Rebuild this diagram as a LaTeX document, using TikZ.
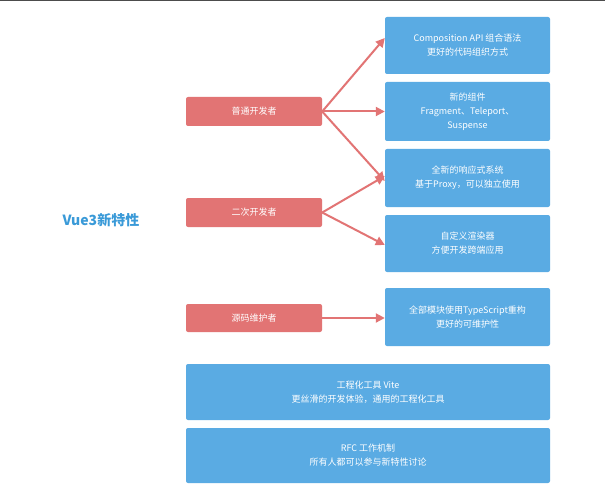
\documentclass[tikz,border=0pt]{standalone}
\usepackage{fontspec}
\setmainfont{Noto Sans CJK SC}
\usetikzlibrary{arrows.meta}
\definecolor{rbox}{HTML}{E27474}
\definecolor{bbox}{HTML}{5AABE3}
\definecolor{ttl}{HTML}{3A9AD8}
\begin{document}
\begin{tikzpicture}[x=1pt,y=-1pt,
 red/.style={fill=rbox,rounded corners=2pt,text=white,font=\fontsize{9}{11}\selectfont,inner sep=0pt},
 blue/.style={fill=bbox,rounded corners=2pt,text=white,font=\fontsize{9}{14}\selectfont,align=center,inner sep=0pt},
 arr/.style={draw=rbox,line width=2pt,-{Triangle[length=9pt,width=9pt]}}]
\useasboundingbox[fill=white] (0,0) rectangle (605,500);
\fill[gray!60!black] (0,0) rectangle (605,1.5);
\node[red,minimum width=136pt,minimum height=29pt] (p) at (254,111.5) {普通开发者};
\node[red,minimum width=136pt,minimum height=29pt] (e) at (254,212.5) {二次开发者};
\node[red,minimum width=136pt,minimum height=28pt] (y) at (254,318) {源码维护者};
\node[blue,minimum width=165pt,minimum height=57pt] (b1) at (467.5,45.5) {Composition API 组合语法\\更好的代码组织方式};
\node[blue,minimum width=165pt,minimum height=59pt] (b2) at (467.5,111.5) {新的组件\\Fragment、Teleport、\\Suspense};
\node[blue,minimum width=165pt,minimum height=58pt] (b3) at (467.5,178) {全新的响应式系统\\基于Proxy，可以独立使用};
\node[blue,minimum width=165pt,minimum height=57pt] (b4) at (467.5,243.5) {自定义渲染器\\方便开发跨端应用};
\node[blue,minimum width=165pt,minimum height=58pt] (b5) at (467.5,317) {全部模块使用TypeScript重构\\更好的可维护性};
\node[blue,minimum width=364pt,minimum height=56pt] (b6) at (368,392) {工程化工具 Vite\\更丝滑的开发体验，通用的工程化工具};
\node[blue,minimum width=364pt,minimum height=55pt] (b7) at (368,455.5) {RFC 工作机制\\所有人都可以参与新特性讨论};
\node[text=ttl,font=\fontsize{14}{16}\selectfont\bfseries] (t) at (101,220) {Vue3新特性};
\draw[arr] (p.east) -- (b1.west|-0,38);
\draw[arr] (p.east) -- (b2.west);
\draw[arr] (p.east) -- (b3.west|-0,181);
\draw[arr] (e.east) -- (b3.west|-0,176);
\draw[arr] (e.east) -- (b4.west|-0,245);
\draw[arr] (y.east) -- (b5.west|-0,318);
\end{tikzpicture}
\end{document}
